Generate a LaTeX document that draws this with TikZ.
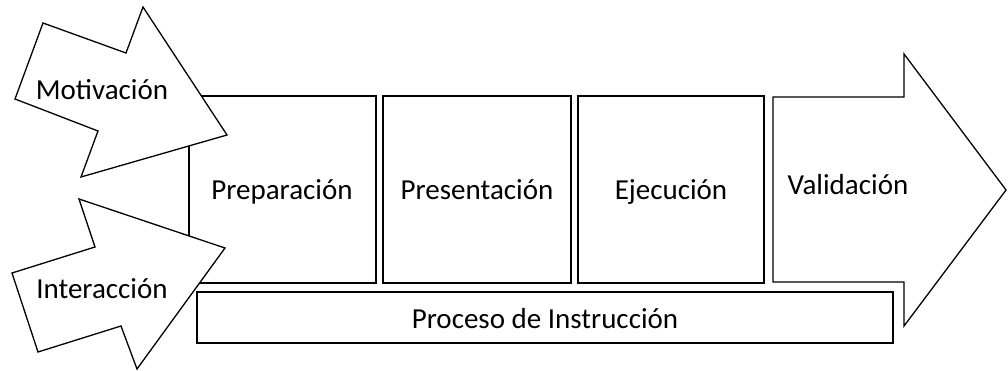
\documentclass[tikz,border=0pt]{standalone}
\usepackage{fontspec}
\setmainfont{Carlito}
\usepackage{tikz}

\begin{document}
\begin{tikzpicture}[x=1pt, y=-1pt, line width=1.3pt,
    caja/.style={draw=black, fill=white},
    texto/.style={anchor=base, inner sep=0pt, font=\fontsize{29}{35}\selectfont}]
    \useasboundingbox (0,0) rectangle (1008,371);
    % fases del proceso
    \draw[caja] (189,96) rectangle (376,283);
    \draw[caja] (383,96) rectangle (571,283);
    \draw[caja] (578,96) rectangle (764,283);
    \draw[caja] (773,97) -- (904,97) -- (904,54) -- (1006,190) -- (904,326) -- (904,282) -- (773,282) -- cycle;
    \draw[caja] (197,292) rectangle (893,343);
    % flechas de entrada
    \draw[caja] (227,135) -- (143,7) -- (126,53) -- (43,23) -- (15,99) -- (98,131) -- (81,177) -- cycle;
    \draw[caja] (225,248) -- (79,199) -- (95,247) -- (12,273) -- (38,352) -- (121,326) -- (137,369) -- cycle;
    \node[texto] (motiv) at (102,100) {Motivación};
    \node[texto] (inter) at (102,298) {Interacción};
    \node[texto] (prep) at (282,200) {Preparación};
    \node[texto] (pres) at (477,200) {Presentación};
    \node[texto] (ejec) at (671,200) {Ejecución};
    \node[texto] (valid) at (848,195) {Validación};
    \node[texto] (proc) at (545,328) {Proceso de Instrucción};
    %\node[texto] at (545,360) {};
\end{tikzpicture}
\end{document}
